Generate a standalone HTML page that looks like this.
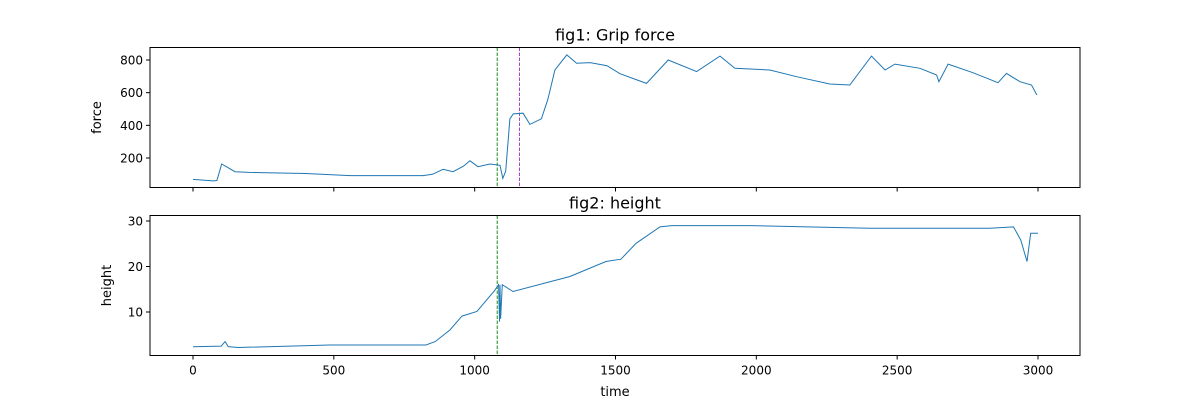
<!DOCTYPE html>
<html><head><meta charset="utf-8"><style>
html,body{margin:0;padding:0;background:#fff}
svg{display:block;font-family:"DejaVu Sans","Liberation Sans",sans-serif}
</style></head><body>
<svg id="c" width="1200" height="400" viewBox="0 0 1200 400"></svg>
<script>
const forceT=[0,71,85,102,149,200,262,400,557,817,850,888,923,960,983,1012,1054,1090,1100,1110,1125,1137,1172,1196,1237,1260,1285,1327,1362,1410,1470,1516,1610,1687,1788,1871,1924,2048,2143,2261,2332,2409,2457,2492,2581,2640,2648,2681,2769,2858,2888,2936,2977,2996];
const forceV=[69,60,62,163,116,112,110,105,92,92,100,131,116,150,183,147,163,155,75,120,440,470,474,406,440,560,739,831,780,784,765,716,657,800,729,824,749,739,698,653,647,824,739,775,749,708,667,775,722,661,718,667,647,586];
const heightT=[0,100,114,125,160,486,827,860,912,955,1008,1072,1085,1088,1090,1092,1098,1136,1338,1466,1519,1573,1658,1700,1977,2403,2829,2913,2939,2961,2974,3000];
const heightV=[2.37,2.5,3.5,2.4,2.2,2.75,2.75,3.5,6.05,9.1,10.1,14.8,16,7.9,16,8.5,16,14.5,17.8,21.1,21.6,25.1,28.7,29,29,28.4,28.4,28.7,25.8,21.1,27.3,27.3];
const xTicks=[0,500,1000,1500,2000,2500,3000];
const forceTicks=[200,400,600,800];
const heightTicks=[10,20,30];
const vLinesTop=[1080,1159];
const vLinesBottom=[1080];

const NS="http://www.w3.org/2000/svg";
const svg=document.getElementById('c');
function mk(tag,attrs,parent){const e=document.createElementNS(NS,tag);for(const k in attrs)e.setAttribute(k,attrs[k]);(parent||svg).appendChild(e);return e;}
const L=150,R=1080;
const xs=t=>193+(t-0)*(845/3000);
const yF=v=>60+(800-v)*(98/600);
const yH=v=>221+(30-v)*4.55;

function panel(top,bottom,ys,T,V,ticks,vlines,name,title,ylabel,ylabelX,showX){
  const g=mk('g',{});
  
  
  const ttl=mk('text',{x:615,y:top-7,'text-anchor':'middle','font-size':16,fill:'#000'},g);
  ttl.textContent=title;
  
  
  const yl=mk('text',{x:ylabelX,y:(top+bottom)/2,'text-anchor':'middle','font-size':13,transform:`rotate(-90 ${ylabelX} ${(top+bottom)/2})`},g);
  yl.textContent=ylabel;
  
  
  ticks.forEach(v=>{
    const y=ys(v);
    mk('line',{x1:L-4,x2:L,y1:y,y2:y,stroke:'#000','stroke-width':1},g);
    const t=mk('text',{x:L-7,y:y+4.5,'text-anchor':'end','font-size':12},g);
    t.textContent=v;
    
    
  });
  xTicks.forEach(v=>{
    const x=xs(v);
    mk('line',{x1:x,x2:x,y1:bottom,y2:bottom+4,stroke:'#000','stroke-width':1},g);
    if(showX){
      const t=mk('text',{x:x,y:bottom+19,'text-anchor':'middle','font-size':12},g);
      t.textContent=v;
      
      
    }
  });
  const cols=['#008000','#a030c0'];
  vlines.forEach((v,i)=>{
    const ln=mk('line',{x1:xs(v),x2:xs(v),y1:top,y2:bottom,stroke:cols[i],'stroke-width':0.9,'stroke-dasharray':'3.5,1.5'},g);
    
    
  });
  const d=T.map((t,i)=>(i?'L':'M')+xs(t).toFixed(1)+','+ys(V[i]).toFixed(1)).join('');
  const p=mk('path',{d:d,fill:'none',stroke:'#1f77b4','stroke-width':1},g);
  
  
  mk('rect',{x:L,y:top,width:R-L,height:bottom-top,fill:'none',stroke:'#000','stroke-width':1},g);
}
panel(47.5,187.5,yF,forceT,forceV,forceTicks,vLinesTop,'grip-force-panel','fig1: Grip force','force',101,false);
panel(215.5,355.5,yH,heightT,heightV,heightTicks,vLinesBottom,'height-panel','fig2: height','height',111,true);
const xl=mk('text',{x:615,y:396,'text-anchor':'middle','font-size':13});
xl.textContent='time';


</script>
</body></html>
